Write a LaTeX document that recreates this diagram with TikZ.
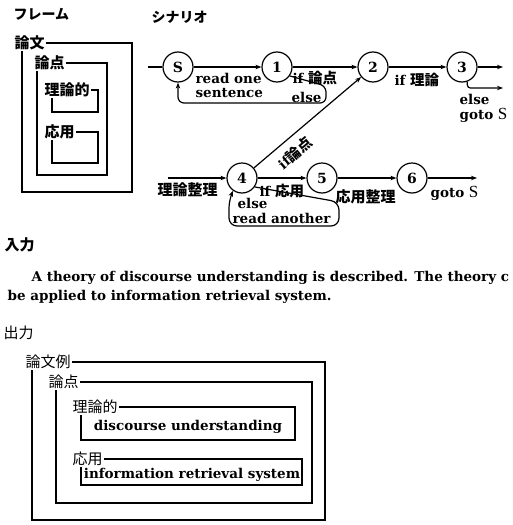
\documentclass[tikz,border=0pt]{standalone}
\usepackage{fontspec}
\setmainfont{DejaVu Serif}
\newfontfamily\jp{Noto Sans CJK JP}
\newfontfamily\tms{Liberation Serif}
\newcommand{\jtext}[1]{{\jp\fontsize{14.5}{15}\selectfont #1}}
\usetikzlibrary{arrows.meta}

\tikzset{
  state/.style={circle, draw, minimum size=30pt, inner sep=0pt, font=\fontsize{14}{14}\selectfont\bfseries},
  trans/.style={-{Stealth[length=6pt,width=4.5pt]}},
  lbl/.style={anchor=west, inner sep=1pt, font=\fontsize{13.5}{15}\selectfont\bfseries},
  jlbl/.style={anchor=west, inner sep=1pt, font=\fontsize{15}{16}\selectfont\jp\bfseries},
  olbl/.style={anchor=west, inner sep=1pt, font=\fontsize{15}{16}\selectfont\jp},
}

\begin{document}
\begin{tikzpicture}[x=1pt, y=-1pt, line width=1.2pt]
\useasboundingbox (0,0) rectangle (513,525);

% Frame
\node[jlbl, font=\fontsize{14}{15}\selectfont\jp\bfseries] (frame) at (12,14) {フレーム};
\node[jlbl] (ronbun) at (13,43) {論文};
\draw (ronbun.east) -| (132,192) -| (22,51);
\node[jlbl] (ronten) at (33,63) {論点};
\draw (ronten.east) -| (107,175) -| (37,71);
\node[jlbl] (riron) at (43,90) {理論的};
\draw (riron.east) -| (98,112) -| (52,98);
\node[jlbl] (ouyou) at (43,132) {応用};
\draw (ouyou.east) -| (98,163) -| (52,140);

% Scenario
\node[jlbl, font=\fontsize{14}{15}\selectfont\jp\bfseries] (scen) at (150,17) {シナリオ};
\node[state] (s) at (178,67) {S};
\node[state] (n1) at (277,67) {1};
\node[state] (n2) at (373,67) {2};
\node[state] (n3) at (462,67) {3};
\node[state] (n4) at (242,178) {4};
\node[state] (n5) at (322,178) {5};
\node[state] (n6) at (412,178) {6};

\coordinate (sin) at (148,67);
\coordinate (out3) at (503,67);
\coordinate (else3) at (503,88);
\coordinate (in4) at (168,178);
\coordinate (out6) at (477,178);

\draw (sin) -- (s);
\draw[trans] (s) -- (n1);
\node[lbl] (readone) at (194,78) {read one};
\node[lbl] (sentence) at (194,93) {sentence};
\draw[trans, rounded corners=6pt] (n1.-35) -- (326,86) -- (326,103) -- (178,103) -- (s.south);
\node[lbl] (else1) at (290,97) {else};

\draw[trans] (n1) -- (n2);
\node[lbl] (if1) at (291,78) {if \jtext{論点}};
\draw[trans] (n2) -- (n3);
\node[lbl] (if2) at (393,80) {if \jtext{理論}};
\draw[trans] (n3) -- (out3);
\draw[trans, rounded corners=3pt] (n3.-70) |- (else3);
\node[lbl] (else3t) at (458,99) {else};
\node[lbl] (goto3) at (458,115) {goto {\tms\mdseries\fontsize{17}{17}\selectfont S}};

\draw[trans] (n4) -- (n2);
\node[lbl, anchor=center, rotate=40] (if3) at (295,153) {if\jtext{論点}};
\draw[trans] (in4) -- (n4);
\node[jlbl] (rironseiri) at (156,190) {理論整理};
\draw[trans] (n4) -- (n5);
\node[lbl] (if4) at (258,191) {if \jtext{応用}};
\draw[trans, rounded corners=8pt] (n4.-35) -- (339,202) -- (339,226) -- (229,226) -- (229,200) -- (n4.-125);
\node[lbl] (else4) at (236,203) {else};
\node[lbl] (another) at (231,218) {read another};
\draw[trans] (n5) -- (n6);
\node[jlbl] (ouyouseiri) at (334,197) {応用整理};
\draw[trans] (n6) -- (out6);
\node[lbl] (goto6) at (429,193) {goto {\tms\mdseries\fontsize{17}{17}\selectfont S}};

% Input
\node[jlbl] (nyuryoku) at (3,245) {入力};
\node[lbl] (line1) at (30,278) {A theory of discourse understanding is described. The theory c};
\node[lbl] (line2) at (6,297) {be applied to information retrieval system.};

% Output
\node[olbl] (shutsu) at (2,333) {出力};
\node[olbl] (ex) at (24,362) {論文例};
\draw (ex.east) -| (325,520) -| (32,370);
\node[olbl] (pt) at (47,382) {論点};
\draw (pt.east) -| (312,503) -| (56,390);
\node[olbl] (th) at (71,407) {理論的};
\draw (th.east) -| (295,440) -| (81,415);
\node[olbl] (ap) at (71,459) {応用};
\draw (ap.east) -| (302,485) -| (81,467);
\node[lbl, anchor=center] (du) at (188,427) {discourse understanding};
\node[lbl, anchor=center] (irs) at (192,475) {information retrieval system};

\end{tikzpicture}
\end{document}
